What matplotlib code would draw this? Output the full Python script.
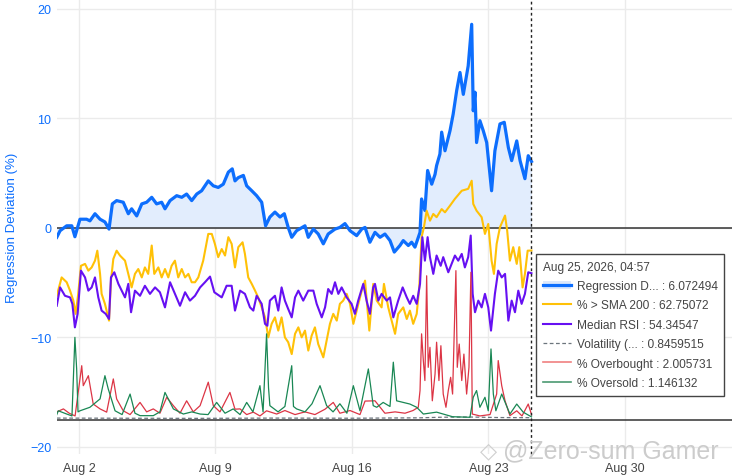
import matplotlib
matplotlib.use("Agg")
import matplotlib.pyplot as plt
import matplotlib.dates as mdates
from matplotlib.lines import Line2D
from matplotlib.patches import Patch
import numpy as np
import pandas as pd

plt.rcParams['font.family'] = ['Liberation Sans', 'DejaVu Sans']

# Time axis: day of August 2026 (fractional), last point = Aug 25 04:57
end_day = 25 + (4 + 57 / 60) / 24

# Regression Deviation (%) - left axis
reg_days = [0.86, 1.03, 1.37, 1.63, 1.79, 2.05, 2.39, 2.56, 2.82, 3.08, 3.33, 3.54, 3.71, 3.93,
            4.27, 4.53, 4.70, 4.96, 5.22, 5.47, 5.73, 5.98, 6.24, 6.41, 6.67, 7.01, 7.27, 7.52,
            7.78, 8.04, 8.29, 8.63, 8.89, 9.14, 9.40, 9.66, 9.86, 10.0, 10.17, 10.43, 10.60,
            10.86, 11.11, 11.37, 11.57, 11.79, 12.05, 12.31, 12.53, 12.73, 12.91, 13.16, 13.59,
            13.76, 14.02, 14.27, 14.53, 14.78, 15.13, 15.38, 15.64, 15.90, 16.24, 16.50, 16.67,
            16.92, 17.18, 17.44, 17.69, 17.95, 18.17, 18.46, 18.63, 18.89, 19.06, 19.23, 19.49,
            19.57, 19.74, 19.88, 20.09, 20.26, 20.34, 20.51, 20.60, 20.77, 21.03, 21.19, 21.37,
            21.54, 21.71, 21.96, 22.14, 22.22, 22.31, 22.39, 22.56, 22.73, 22.91, 23.16, 23.33,
            23.59, 23.81, 24.02, 24.19, 24.45, 24.62, 24.87, 25.04, end_day]
reg_vals = [-0.85, -0.25, 0.2, 0.2, -0.8, 0.8, 0.8, 0.65, 1.3, 0.8, 0.55, -0.1, 2.2, 2.5,
            2.35, 1.3, 1.75, 1.1, 2.2, 2.35, 2.8, 2.2, 2.35, 1.75, 2.5, 2.95, 2.8, 3.1,
            2.5, 3.1, 3.4, 4.3, 3.85, 3.7, 4.0, 5.1, 5.4, 4.3, 4.6, 4.8, 3.85,
            3.4, 2.95, 2.35, 0.2, 1.0, 1.45, 1.0, 1.3, 0.05, -0.85, -0.25, 0.2,
            -0.85, -0.1, -0.55, -1.45, -0.55, -0.1, 0.05, 0.4, -0.25, -0.7, -0.1, 0.05,
            -1.3, -0.4, -0.85, -0.55, -1.15, -2.2, -1.6, -1.15, -1.6, -1.3, -1.75, -0.4,
            2.65, 1.6, 5.25, 4.0, 4.9, 5.7, 6.75, 8.75, 7.05, 8.9, 10.4, 12.55,
            14.2, 12.2, 14.8, 18.6, 10.7, 12.4, 7.8, 9.8, 8.9, 7.8, 3.4, 7.05,
            9.5, 9.65, 7.35, 6.15, 7.95, 6.15, 4.5, 6.6, 6.072494]

# % > SMA 200 - hidden right axis
sma_days = [0.86, 1.11, 1.37, 1.54, 1.71, 1.83, 1.96, 2.10, 2.31, 2.48, 2.65, 2.82, 2.94, 3.08,
            3.16, 3.33, 3.54, 3.64, 3.76, 3.93, 4.10, 4.36, 4.53, 4.70, 4.87, 5.04, 5.22, 5.38,
            5.55, 5.73, 5.86, 6.07, 6.24, 6.41, 6.58, 6.75, 6.92, 7.09, 7.27, 7.44, 7.61, 7.78,
            7.95, 8.12, 8.37, 8.63, 8.81, 8.97, 9.14, 9.32, 9.49, 9.66, 9.83, 10.0, 10.17,
            10.39, 10.51, 10.68, 10.86, 11.03, 11.19, 11.37, 11.54, 11.71, 11.88, 12.05, 12.22,
            12.39, 12.56, 12.73, 12.91, 13.08, 13.25, 13.42, 13.59, 13.76, 13.93, 14.10, 14.27,
            14.53, 14.70, 14.87, 15.04, 15.22, 15.38, 15.55, 15.73, 15.90, 16.07, 16.24, 16.50,
            16.67, 16.89, 17.09, 17.27, 17.52, 17.64, 17.86, 18.12, 18.21, 18.37, 18.63, 18.81,
            18.97, 19.14, 19.32, 19.45, 19.57, 19.69, 19.83, 20.0, 20.17, 20.34, 20.60, 20.77,
            21.03, 21.28, 21.63, 21.96, 22.14, 22.22, 22.39, 22.65, 22.82, 22.99, 23.16, 23.28,
            23.42, 23.59, 23.85, 23.96, 24.10, 24.27, 24.45, 24.58, 24.75, 24.87, 25.01, end_day]
sma_vals = [46.0, 52.8, 51.0, 47.9, 44.2, 39.3, 46.7, 57.1, 57.8, 55.3, 56.5, 59.0, 62.7, 54.1,
            46.7, 43.0, 36.8, 51.6, 59.6, 62.7, 60.9, 59.0, 54.1, 49.1, 54.1, 55.9, 52.8, 56.5,
            54.1, 64.6, 54.1, 56.5, 52.8, 55.9, 52.8, 57.1, 59.0, 52.8, 55.9, 52.8, 54.1, 51.0,
            51.0, 52.8, 59.0, 68.9, 68.9, 65.2, 60.3, 63.3, 60.9, 67.7, 65.2, 56.5, 64.0,
            65.8, 61.5, 52.8, 50.4, 47.9, 45.4, 41.7, 38.0, 30.6, 35.6, 38.0, 33.1,
            38.0, 30.6, 28.8, 24.4, 31.9, 34.3, 30.6, 33.1, 25.7, 31.2, 34.3, 28.1,
            23.2, 29.4, 35.6, 39.3, 36.8, 43.0, 44.2, 46.7, 43.0, 35.6, 40.5, 47.9,
            51.6, 33.1, 50.4, 44.2, 41.7, 50.4, 41.7, 34.3, 31.9, 39.3, 41.7, 37.4,
            40.5, 35.6, 39.3, 49.1, 67.7, 71.4, 77.5, 73.8, 76.3, 75.1, 78.1, 76.9,
            79.4, 81.9, 84.9, 85.6, 88.6, 80.0, 77.5, 75.1, 68.9, 72.6, 59.0, 54.1,
            65.2, 71.4, 75.7, 70.1, 59.0, 64.0, 57.8, 64.0, 49.1, 54.1, 62.7, 62.75072]

# Median RSI - hidden right axis
rsi_days = [0.86, 1.03, 1.28, 1.54, 1.66, 1.79, 1.93, 2.10, 2.31, 2.48, 2.65, 2.82, 2.99, 3.16,
            3.37, 3.54, 3.64, 3.81, 4.02, 4.19, 4.36, 4.53, 4.67, 4.87, 5.13, 5.38, 5.64, 5.90,
            6.15, 6.41, 6.67, 6.92, 7.18, 7.44, 7.69, 7.95, 8.21, 8.46, 8.72, 8.94, 9.06, 9.32,
            9.57, 9.83, 10.0, 10.26, 10.51, 10.77, 10.94, 11.11, 11.37, 11.54, 11.66, 11.79,
            12.05, 12.22, 12.39, 12.56, 12.73, 12.91, 13.08, 13.25, 13.50, 13.76, 14.02, 14.19,
            14.45, 14.62, 14.78, 14.96, 15.13, 15.30, 15.47, 15.73, 15.98, 16.15, 16.32, 16.58,
            16.75, 16.92, 17.09, 17.18, 17.35, 17.52, 17.78, 17.95, 18.12, 18.37, 18.60, 18.81,
            18.97, 19.14, 19.32, 19.49, 19.61, 19.74, 19.88, 20.0, 20.17, 20.34, 20.55, 20.68,
            20.94, 21.11, 21.28, 21.45, 21.63, 21.79, 21.96, 22.09, 22.19, 22.31, 22.48, 22.65,
            22.82, 22.99, 23.13, 23.33, 23.50, 23.68, 23.85, 24.02, 24.19, 24.36, 24.53, 24.70,
            24.87, 25.04, end_day]
rsi_vals = [42.3, 49.1, 46.0, 45.4, 43.0, 34.3, 39.3, 55.3, 52.8, 47.9, 49.1, 52.8, 45.4, 40.5,
            39.3, 37.4, 52.8, 54.7, 50.4, 47.9, 45.4, 50.4, 39.9, 47.9, 46.0, 49.7, 46.7, 49.1,
            47.3, 41.7, 51.0, 46.7, 42.3, 47.3, 44.2, 46.0, 49.1, 51.0, 53.1, 47.3, 46.7, 45.4,
            49.7, 49.7, 40.5, 47.9, 46.7, 41.7, 40.5, 46.0, 43.0, 35.6, 34.9, 44.2,
            46.0, 40.5, 49.1, 44.2, 41.1, 38.0, 45.4, 47.9, 44.2, 47.9, 47.9, 43.0,
            38.0, 41.7, 48.5, 46.7, 51.0, 46.7, 49.1, 45.4, 43.0, 39.3, 44.2, 50.4,
            44.2, 39.3, 49.1, 50.4, 44.2, 46.7, 44.2, 45.4, 38.0, 44.2, 49.1, 45.4,
            43.0, 46.0, 43.0, 50.4, 67.7, 59.0, 67.7, 60.3, 54.1, 60.9, 57.1, 60.3,
            54.7, 57.8, 60.9, 59.0, 61.5, 56.5, 60.3, 68.3, 46.7, 39.9, 44.2, 41.7,
            46.7, 41.7, 33.1, 46.7, 55.3, 52.8, 54.1, 36.8, 44.2, 39.9, 47.9, 43.0,
            46.7, 54.7, 54.34547]

# Volatility - hidden right axis
vol_days = [0.86, 4.0, 8.0, 12.0, 16.0, 19.5, 20.5, 22.0, 23.5, end_day]
vol_vals = [0.7, 0.65, 0.6, 0.7, 0.65, 0.8, 1.0, 1.1, 0.9, 0.8459515]

# % Overbought - hidden right axis
ob_days = [0.86, 1.2, 1.5, 1.8, 2.14, 2.22, 2.48, 2.73, 3.08, 3.42, 3.76, 3.93, 4.27, 4.62,
           5.13, 5.47, 5.81, 6.15, 6.50, 6.84, 7.18, 7.52, 7.86, 8.21, 8.63, 8.89, 9.23, 9.74,
           10.0, 10.26, 10.60, 10.94, 11.28, 11.62, 12.14, 12.56, 13.08, 13.59, 14.10, 14.62,
           15.04, 15.38, 15.90, 16.41, 16.67, 17.18, 17.69, 18.21, 18.72, 19.13, 19.40, 19.49,
           19.57, 19.66, 19.74, 19.83, 19.91, 20.0, 20.12, 20.26, 20.34, 20.46, 20.56, 20.68,
           20.82, 20.94, 21.06, 21.16, 21.33, 21.40, 21.50, 21.63, 21.74, 21.88, 22.0, 22.10,
           22.17, 22.56, 23.08, 23.42, 23.50, 23.68, 23.85, 24.10, 24.45, 24.72, 25.04, end_day]
ob_vals = [3.0, 4.1, 2.5, 1.5, 20.1, 12.7, 16.4, 5.9, 4.1, 2.9, 15.2, 7.8, 3.4, 2.0,
           6.5, 3.0, 4.1, 2.5, 8.4, 5.3, 2.5, 7.1, 3.0, 5.3, 14.0, 5.3, 3.0, 10.2,
           4.0, 4.1, 2.0, 2.9, 1.5, 3.4, 2.2, 3.5, 2.0, 3.0, 2.0, 4.0,
           6.5, 2.5, 3.5, 2.0, 7.0, 7.1, 2.5, 3.0, 2.5, 3.5, 4.7, 10.9,
           31.9, 22.0, 14.6, 53.4, 19.5, 26.9, 7.1, 17.0, 28.8, 14.6, 27.5, 9.6,
           4.7, 10.9, 15.8, 9.6, 55.3, 19.5, 28.1, 14.6, 24.4, 9.6, 19.5, 54.7,
           2.2, 1.5, 2.0, 9.6, 22.0, 12.7, 7.1, 1.6, 3.4, 1.5, 5.9, 2.005731]

# % Oversold - hidden right axis
os_days = [0.86, 0.94, 1.37, 1.64, 1.79, 1.88, 1.95, 2.05, 2.56, 3.08, 3.33, 3.50, 3.85, 4.21,
           4.62, 4.87, 5.13, 5.81, 6.15, 6.41, 6.84, 7.35, 7.79, 8.21, 8.62, 9.06, 9.49, 9.91,
           10.26, 10.60, 10.92, 11.28, 11.44, 11.62, 11.72, 11.79, 12.21, 12.56, 12.91, 13.0,
           13.16, 13.59, 13.95, 14.36, 14.70, 15.03, 15.38, 15.74, 16.07, 16.41, 16.84, 17.09,
           17.27, 17.60, 17.95, 18.12, 18.29, 18.63, 18.97, 19.32, 19.66, 20.34, 21.16, 22.05,
           22.22, 22.39, 22.56, 22.82, 22.99, 23.13, 23.25, 23.38, 23.68, 24.10, 24.45, 24.78,
           end_day]
os_vals = [2.0, 3.4, 2.2, 1.5, 30.6, 18.9, 3.0, 3.4, 4.7, 7.8, 16.4, 11.5, 3.4, 2.0,
           9.6, 2.5, 1.6, 1.6, 3.0, 10.2, 4.1, 2.2, 3.0, 2.2, 2.0, 6.5, 2.5, 4.1,
           2.0, 6.5, 3.0, 12.7, 3.0, 31.9, 12.0, 5.3, 3.0, 5.0, 20.1, 5.0,
           4.1, 3.0, 6.0, 12.7, 5.3, 3.0, 6.0, 2.5, 12.7, 3.4, 18.9, 5.3,
           4.7, 6.5, 5.0, 21.4, 7.1, 6.5, 5.9, 4.7, 2.2, 2.9, 1.2, 1.0,
           8.4, 10.9, 4.7, 8.4, 3.4, 26.3, 9.6, 3.4, 9.6, 2.2, 5.9, 2.9,
           1.146132]

legend_labels = ["Regression D... : 6.072494", "% > SMA 200 : 62.75072", "Median RSI : 54.34547",
                 "Volatility (... : 0.8459515", "% Overbought : 2.005731", "% Oversold : 1.146132"]
hover_title = "Aug 25, 2026, 04:57"
x_tick_days = [2, 9, 16, 23, 30]


def to_time(days):
    return pd.Timestamp("2026-08-01") + pd.to_timedelta(np.asarray(days, dtype=float) - 1, unit="D")


W, H = 732, 477
fig = plt.figure(figsize=(W / 100, H / 100), dpi=100)
ax = fig.add_axes([57 / W, 22 / H, (W - 57) / W, 455 / H])
ax2 = ax.twinx()

BLUE = "#0d6efd"
ORANGE = "#ffc107"
PURPLE = "#6610f2"
RED = "#dc3545"
GREEN = "#198754"
GRAY = "#6c757d"

t_reg = to_time(reg_days)
ax.fill_between(t_reg, reg_vals, 0, color="#e2edfd", zorder=1, linewidth=0)
ax.plot(t_reg, reg_vals, color=BLUE, lw=2.3, zorder=3, solid_joinstyle="round")
ax.axhline(0, color="#333333", lw=1.1, zorder=2)

ax2.plot(to_time(sma_days), sma_vals, color=ORANGE, lw=1.5)
ax2.plot(to_time(rsi_days), rsi_vals, color=PURPLE, lw=1.5)
ax2.plot(to_time(vol_days), vol_vals, color=GRAY, lw=0.9, ls=(0, (3, 2)))
ax2.plot(to_time(ob_days), ob_vals, color=RED, lw=0.9)
ax2.plot(to_time(os_days), os_vals, color=GREEN, lw=0.9)
ax2.axhline(0, color="#333333", lw=1.1)

# hover line at the last timestamp
ax2.axvline(to_time([end_day])[0], color="#222222", lw=1, ls=(0, (2, 2)), clip_on=False)

ax.set_ylim(-20.64, 20.91)
ax2.set_ylim(-12.6, 155.9)
ax.set_xlim(to_time([0.872])[0], to_time([35.49])[0])

ax.set_yticks([-20, -10, 0, 10, 20])
ax.set_xticks(to_time(x_tick_days))
ax.xaxis.set_major_formatter(plt.FuncFormatter(
    lambda v, _: "{} {}".format(mdates.num2date(v).strftime("%b"), mdates.num2date(v).day)))
ax.tick_params(axis="y", colors=BLUE, labelsize=9, length=0, pad=4)
ax.tick_params(axis="x", colors="#444444", labelsize=9, length=0, pad=6)
for lab in ax.get_yticklabels():
    lab.set_color(BLUE)
ax.grid(True, color="#ebebeb", lw=1)
ax.set_axisbelow(True)
for s in ax.spines.values():
    s.set_visible(False)
ax2.axis("off")
ax.set_ylabel("Regression Deviation (%)", color=BLUE, fontsize=9.5, labelpad=9)

# hover box
handles = [(Patch(facecolor="#dce8fc", edgecolor="none"), Line2D([], [], color=BLUE, lw=2.3)),
           Line2D([], [], color=ORANGE, lw=1.5),
           Line2D([], [], color=PURPLE, lw=1.5),
           Line2D([], [], color=GRAY, lw=0.9, ls=(0, (3, 2))),
           Line2D([], [], color="#f08080", lw=1.2),
           Line2D([], [], color="#4c9a72", lw=1.2)]
leg = fig.legend(handles, legend_labels, title=hover_title, loc="upper left",
                 bbox_to_anchor=(536 / W, 1 - 255 / H), fontsize=8.6, title_fontsize=8.6,
                 alignment="left", frameon=True, fancybox=False, edgecolor="#444444",
                 framealpha=1, handlelength=2.4, handletextpad=0.45, labelspacing=0.62,
                 borderpad=0.55, borderaxespad=0)
leg.get_frame().set_linewidth(1)
for txt in leg.get_texts():
    txt.set_color("#444444")
leg.get_title().set_color("#444444")

# watermark
fig.text(488 / W, 1 - 451 / H, "◇", fontsize=16, color="#d0d0d0", ha="center", va="center",
         family=["DejaVu Sans"])
fig.text(503 / W, 1 - 451 / H, "@Zero-sum Gamer", fontsize=18, color="#cccccc",
         ha="left", va="center")

fig.savefig("out.png", dpi=100)
